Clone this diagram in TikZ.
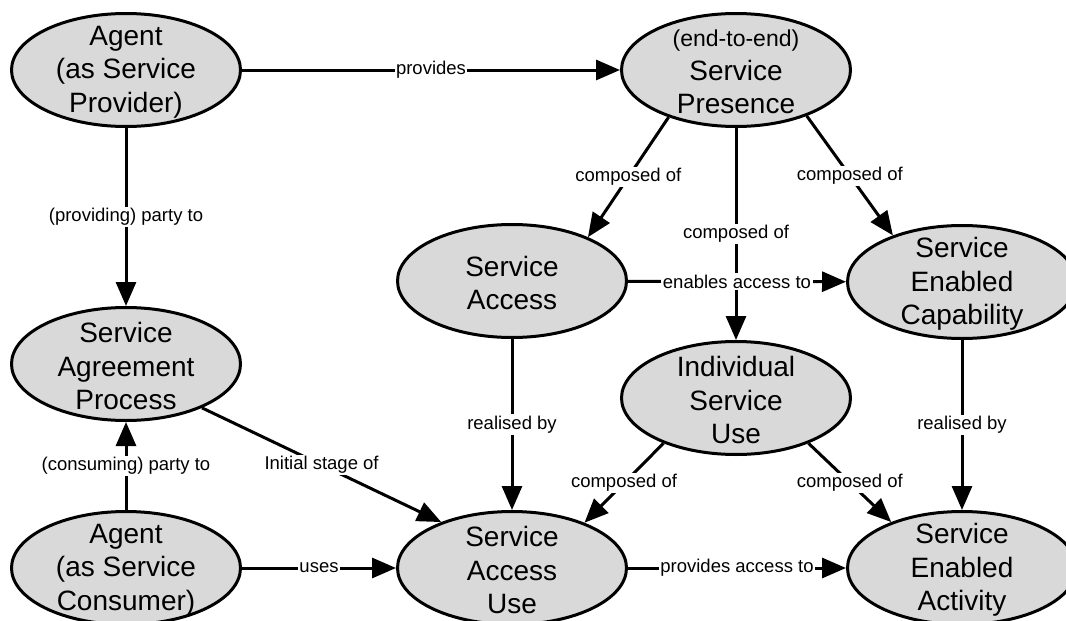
\documentclass[tikz,border=0pt]{standalone}
\usepackage{fontspec}
\setmainfont{Liberation Sans}
\usetikzlibrary{shapes.geometric,arrows.meta}
\definecolor{ellfill}{RGB}{217,217,217}
\begin{document}
\begin{tikzpicture}[x=1pt,y=-1pt,
  txt/.style={inner sep=0pt, align=center, yshift=-2pt, font=\fontsize{28}{33.5}\selectfont},
  ell/.style={ellipse, draw, line width=3pt, fill=ellfill, minimum width=229pt,
    minimum height=113pt, inner sep=0pt, label={[txt]center:#1}},
  conn/.style={line width=3pt, -{Triangle[length=24pt,width=20pt]}},
  lbl/.style={fill=white, inner sep=1.5pt, font=\fontsize{18.5}{22}\selectfont}]
\useasboundingbox (0,0) rectangle (1066,621);
\fill[white] (0,0) rectangle (1066,621);

\node[ell={Agent\\(as Service\\Provider)}] (ap) at (126,70) {};
\node[ell={{\fontsize{23}{28}\selectfont (end-to-end)}\\Service\\Presence}] (sp) at (736,70) {};
\node[ell={Service\\Access}] (sa) at (512,281) {};
\node[ell={Service\\Enabled\\Capability}] (sec) at (962,282) {};
\node[ell={Service\\Agreement\\Process}] (sag) at (126,364) {};
\node[ell={Individual\\Service\\Use}] (isu) at (736,398) {};
\node[ell={Agent\\(as Service\\Consumer)}] (ac) at (126,568) {};
\node[ell={Service\\Access\\Use}] (sau) at (512,568) {};
\node[ell={Service\\Enabled\\Activity}] (sea) at (962,568) {};

\draw[conn] (ap) -- node[lbl]{provides} (sp);
\draw[conn] (ap) -- node[lbl]{(providing) party to} (sag);
\draw[conn] (sp.215) -- node[lbl]{composed of} (sa.30);
\draw[conn] (sp) -- node[lbl]{composed of} (isu);
\draw[conn] (sp.327) -- node[lbl]{composed of} (sec.146);
\draw[conn] (sa) -- node[lbl]{enables access to} (sec);
\draw[conn] (sa) -- node[lbl]{realised by} (sau);
\draw[conn] (sec) -- node[lbl]{realised by} (sea);
\draw[conn] (isu.212) -- node[lbl]{composed of} (sau.32);
\draw[conn] (isu.328) -- node[lbl]{composed of} (sea.147);
\draw[conn] (sag.330) -- node[lbl]{Initial stage of} (sau.147);
\draw[conn] (ac) -- node[lbl]{(consuming) party to} (sag);
\draw[conn] (ac) -- node[lbl]{uses} (sau);
\draw[conn] (sau) -- node[lbl]{provides access to} (sea);
\end{tikzpicture}
\end{document}
